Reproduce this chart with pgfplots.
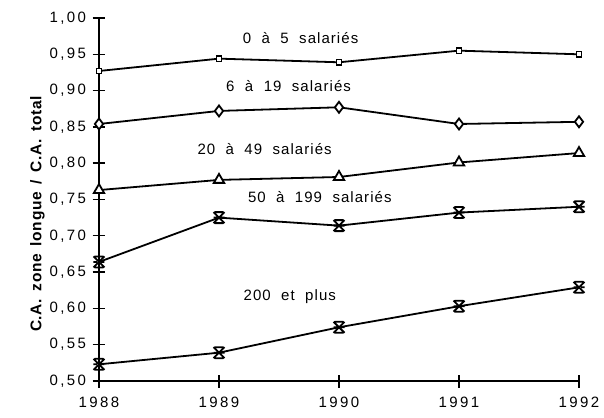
\documentclass[border=0pt]{standalone}
\usepackage{pgfplots}
\pgfplotsset{compat=1.18}
\usepackage{fontspec}
\setmainfont{Liberation Sans}
\newfontfamily\tickfont{Liberation Sans}[LetterSpace=16]
\newfontfamily\labfont{Liberation Sans}[LetterSpace=7, WordSpace=2.0]
\newfontfamily\ylabfont{Liberation Sans}[LetterSpace=4, WordSpace=1.6]
\pgfdeclareplotmark{hourglass}{%
  \pgfpathmoveto{\pgfqpoint{-\pgfplotmarksize}{-\pgfplotmarksize}}%
  \pgfpathlineto{\pgfqpoint{\pgfplotmarksize}{\pgfplotmarksize}}%
  \pgfpathmoveto{\pgfqpoint{-\pgfplotmarksize}{\pgfplotmarksize}}%
  \pgfpathlineto{\pgfqpoint{\pgfplotmarksize}{-\pgfplotmarksize}}%
  \pgfpathmoveto{\pgfqpoint{-0.8\pgfplotmarksize}{\pgfplotmarksize}}%
  \pgfpathlineto{\pgfqpoint{0.8\pgfplotmarksize}{\pgfplotmarksize}}%
  \pgfpathmoveto{\pgfqpoint{-0.8\pgfplotmarksize}{-\pgfplotmarksize}}%
  \pgfpathlineto{\pgfqpoint{0.8\pgfplotmarksize}{-\pgfplotmarksize}}%
  \pgfpathmoveto{\pgfqpoint{-\pgfplotmarksize}{0pt}}%
  \pgfpathlineto{\pgfqpoint{-0.4\pgfplotmarksize}{0pt}}%
  \pgfpathmoveto{\pgfqpoint{0.4\pgfplotmarksize}{0pt}}%
  \pgfpathlineto{\pgfqpoint{\pgfplotmarksize}{0pt}}%
  \pgfusepathqstroke}
\begin{document}
\begin{tikzpicture}
\useasboundingbox (-99pt,-36pt) rectangle (505pt,381pt);
\begin{axis}[
  at={(0,0)}, anchor=south west,
  scale only axis, width=480pt, height=363pt,
  xmin=1988, xmax=1992, ymin=0.5, ymax=1.0,
  axis lines=left, axis line style={line width=1.8pt,-},
  xtick={1988,1989,1990,1991,1992},
  xticklabels={1988,1989,1990,1991,1992},
  ytick={0.5,0.55,...,1.01},
  tick align=center, major tick length=13pt,
  tick style={line width=1.4pt,black},
  yticklabel style={font=\tickfont\fontsize{15}{17}\selectfont, xshift=-3pt},
  xticklabel style={font=\tickfont\fontsize{15}{17}\selectfont, yshift=-6pt},
  /pgf/number format/assume math mode=true,
  yticklabel={\pgfmathprintnumber[fixed,fixed zerofill,precision=2,use comma]{\tick}},
  ylabel={\bfseries C.A. zone longue / C.A. total},
  ylabel style={font=\ylabfont\fontsize{15.5}{17}\selectfont, at={(ticklabel cs:0.46)}, yshift=-2pt},
  clip=false,
  every axis plot/.append style={black, line width=1.8pt},
]
\addplot[mark=square*, mark size=2.6pt, mark options={fill=white,line width=1.3pt}] coordinates {
 (1988,0.927) (1989,0.944) (1990,0.939) (1991,0.955) (1992,0.950)};
\addplot[mark=diamond*, mark size=5.5pt, mark options={fill=white,line width=1.8pt}] coordinates {
 (1988,0.854) (1989,0.872) (1990,0.877) (1991,0.854) (1992,0.857)};
\addplot[mark=triangle*, mark size=6pt, mark options={fill=white,line width=1.8pt}] coordinates {
 (1988,0.763) (1989,0.777) (1990,0.781) (1991,0.801) (1992,0.814)};
\addplot[mark=hourglass, mark size=5.5pt, mark options={line width=1.8pt}] coordinates {
 (1988,0.664) (1989,0.725) (1990,0.714) (1991,0.732) (1992,0.740)};
\addplot[mark=hourglass, mark size=5.5pt, mark options={line width=1.8pt}] coordinates {
 (1988,0.523) (1989,0.539) (1990,0.574) (1991,0.603) (1992,0.629)};
\node[font=\labfont\fontsize{15}{17}\selectfont] at (axis cs:1989.68,0.973) {0 à 5 salariés};
\node[font=\labfont\fontsize{15}{17}\selectfont] at (axis cs:1989.58,0.906) {6 à 19 salariés};
\node[font=\labfont\fontsize{15}{17}\selectfont] at (axis cs:1989.38,0.819) {20 à 49 salariés};
\node[font=\labfont\fontsize{15}{17}\selectfont] at (axis cs:1989.84,0.753) {50 à 199 salariés};
\node[font=\labfont\fontsize{15}{17}\selectfont] at (axis cs:1989.59,0.616) {200 et plus};
\end{axis}
\end{tikzpicture}
\end{document}
